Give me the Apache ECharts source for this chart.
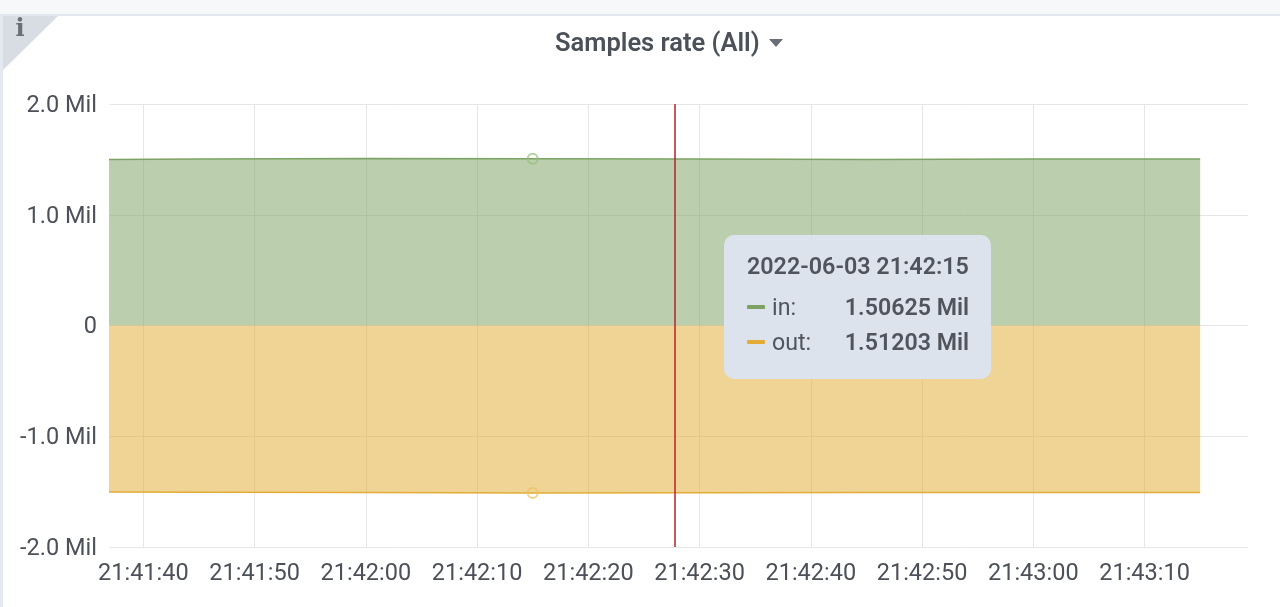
<!DOCTYPE html>
<html>
<head>
<meta charset="utf-8">
<title>Samples rate (All)</title>
<script src="https://cdn.jsdelivr.net/npm/echarts@6/dist/echarts.min.js"></script>
<style>
  html, body { margin: 0; padding: 0; background: #fff; }
  #chart { width: 1280px; height: 607px; }
  .tip { width: 267px; height: 144px; position: relative; font-family: Roboto, sans-serif; color: #50545d; }
  .tip .head { position: absolute; left: 23px; top: 17px; font-size: 23.3px; font-weight: 600; line-height: 28px; white-space: nowrap; }
  .tip .row { position: absolute; left: 23px; right: 22px; height: 28px; line-height: 28px; font-size: 23.2px; white-space: nowrap; }
  .tip .dash { position: absolute; left: 0; top: 12px; width: 18px; height: 4px; border-radius: 1px; }
  .tip .name { position: absolute; left: 25px; }
  .tip .val { position: absolute; right: 0; font-weight: 600; }
</style>
</head>
<body>
<div id="chart"></div>
<script>
const times = [
  '2022-06-03 21:41:30', '2022-06-03 21:41:45', '2022-06-03 21:42:00', '2022-06-03 21:42:15',
  '2022-06-03 21:42:30', '2022-06-03 21:42:45', '2022-06-03 21:43:00', '2022-06-03 21:43:15'
];
const inValues = [1.497, 1.503, 1.509, 1.50625, 1.503, 1.5, 1.503, 1.504];
const outValues = [-1.502, -1.505, -1.509, -1.51203, -1.511, -1.508, -1.507, -1.509];
const yTicks = [-2, -1, 0, 1, 2];
const cursorTime = '2022-06-03 21:42:27.800';
const hoverIndex = 3;
const axisStart = '2022-06-03 21:41:37.000';
const axisEnd = '2022-06-03 21:43:19.300';
const tickStepMs = 10500; // scale rounds this down to a 10s step

const GREEN = '#7ca363';
const YELLOW = '#e2ac36';
const TEXT = '#4c5058';
const GRID = '#e6e6e6';

const chart = echarts.init(document.getElementById('chart'), null, { renderer: 'canvas' });

function pairs(vals) {
  return times.map((t, i) => [t, vals[i]]);
}

function fmtMil(v) {
  return Math.abs(v).toFixed(5) + ' Mil';
}

function areaSeries(name, vals, color, ringColor) {
  return {
    name,
    type: 'line',
    data: pairs(vals),
    symbol: 'none',
    showSymbol: false,
    clip: true,
    lineStyle: { color, width: 1.5 },
    itemStyle: { color },
    areaStyle: { color, opacity: 0.52 },
    emphasis: { disabled: true },
    markPoint: {
      silent: true,
      animation: false,
      symbol: 'circle',
      symbolSize: 10,
      label: { show: false },
      itemStyle: { color: 'rgba(255,255,255,0)', borderColor: ringColor, borderWidth: 2 },
      data: [{ coord: [times[hoverIndex], vals[hoverIndex]] }]
    }
  };
}

const inSeries = areaSeries('in', inValues, GREEN, 'rgba(150,190,125,0.7)');
inSeries.markLine = {
  silent: true,
  animation: false,
  symbol: 'none',
  z: 10,
  label: { show: false },
  lineStyle: { color: '#b8222a', width: 1.5, type: 'solid', opacity: 1 },
  data: [{ xAxis: cursorTime }]
};

chart.setOption({
  animation: false,
  backgroundColor: '#ffffff',
  textStyle: { fontFamily: 'Roboto, sans-serif' },
  title: {
    text: 'Samples rate (All)',
    left: 550,
    top: 27,
    textStyle: { fontFamily: 'Roboto, sans-serif', fontSize: 25.5, fontWeight: 600, color: '#4c5058' }
  },
  grid: { left: 110, right: 32, top: 104, bottom: 60 },
  xAxis: {
    type: 'time',
    min: axisStart,
    max: axisEnd,
    minInterval: tickStepMs,
    maxInterval: tickStepMs,
    axisLine: { show: false },
    axisTick: { show: false },
    splitLine: { show: true, showMinLine: false, showMaxLine: false, lineStyle: { color: GRID, width: 1 } },
    axisLabel: {
      color: TEXT,
      fontSize: 23.5,
      margin: 15,
      showMinLabel: false,
      showMaxLabel: false,
      formatter: (v) => echarts.time.format(v, '{HH}:{mm}:{ss}', false)
    }
  },
  yAxis: {
    type: 'value',
    min: yTicks[0],
    max: yTicks[yTicks.length - 1],
    interval: 1,
    axisLine: { show: false },
    axisTick: { show: false },
    splitLine: { show: true, lineStyle: { color: GRID, width: 1 } },
    axisLabel: {
      color: TEXT,
      fontSize: 23.5,
      margin: 13,
      verticalAlign: 'top',
      lineHeight: 4,
      formatter: (v) => (v === 0 ? '0' : v.toFixed(1) + ' Mil')
    }
  },
  tooltip: {
    trigger: 'axis',
    alwaysShowContent: true,
    showContent: true,
    transitionDuration: 0,
    padding: 0,
    borderWidth: 0,
    backgroundColor: '#dde3ec',
    extraCssText: 'box-shadow:none;border-radius:10px;',
    axisPointer: { type: 'none' },
    position: () => [724, 235],
    formatter: () => `<div class="tip">
      <div class="head">${times[hoverIndex]}</div>
      <div class="row" style="top:58px"><span class="dash" style="background:${GREEN}"></span><span class="name">in:</span><span class="val">${fmtMil(inValues[hoverIndex])}</span></div>
      <div class="row" style="top:93px"><span class="dash" style="background:${YELLOW}"></span><span class="name">out:</span><span class="val">${fmtMil(outValues[hoverIndex])}</span></div>
    </div>`
  },
  graphic: [
    // page strip above the panel and the panel's left edge
    { type: 'rect', silent: true, shape: { x: 0, y: 0, width: 1280, height: 14 }, style: { fill: '#f7f8fa' } },
    { type: 'rect', silent: true, shape: { x: 0, y: 14, width: 1280, height: 2 }, style: { fill: '#e3e8f1' } },
    { type: 'rect', silent: true, shape: { x: 0, y: 14, width: 3, height: 593 }, style: { fill: '#e3e8f1' } },
    // info corner
    { type: 'polygon', silent: true, shape: { points: [[3, 16], [58, 16], [3, 70]] }, style: { fill: '#d8dde3' } },
    { type: 'text', silent: true, x: 20, y: 30, style: { text: 'i', fill: '#6a6e76', fontFamily: 'DejaVu Serif', fontWeight: 'bold', fontSize: 24, align: 'center', verticalAlign: 'middle' } },
    // title caret
    { type: 'polygon', silent: true, shape: { points: [[769, 39], [783, 39], [776, 47]] }, style: { fill: '#6a6e76' } }
  ],
  series: [inSeries, areaSeries('out', outValues, YELLOW, 'rgba(235,195,95,0.7)')]
});

chart.dispatchAction({ type: 'showTip', seriesIndex: 0, dataIndex: hoverIndex });
</script>
</body>
</html>
